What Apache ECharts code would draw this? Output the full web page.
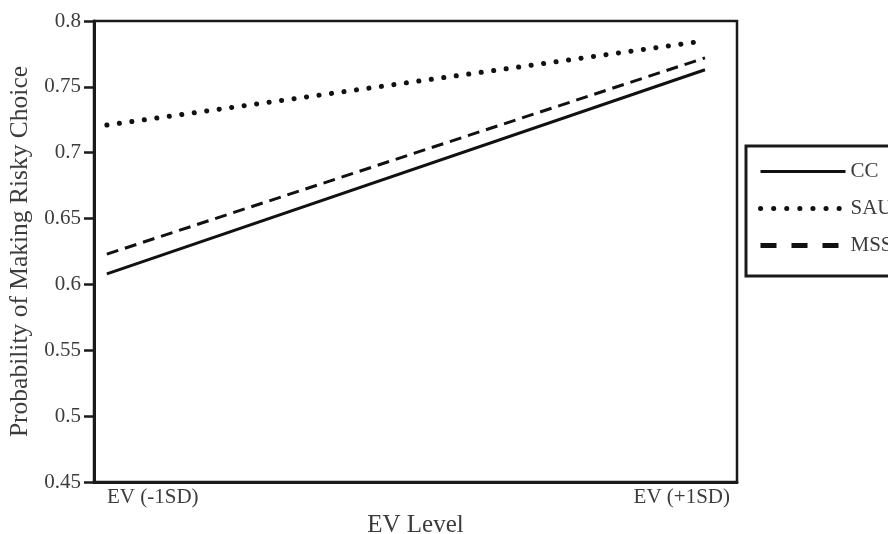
<!DOCTYPE html>
<html>
<head>
<meta charset="utf-8">
<script src="https://cdn.jsdelivr.net/npm/echarts@6/dist/echarts.min.js"></script>
<style>html,body{margin:0;padding:0;background:#fff}#c{width:888px;height:534px}</style>
</head>
<body>
<div id="c"></div>
<script>
var evLevels = [-1, 1];
var evLabels = ['EV (-1SD)', 'EV (+1SD)'];
var seriesNames = ['CC', 'SAU', 'MSS'];
var ccValues = [0.608, 0.763];
var sauValues = [0.721, 0.785];
var mssValues = [0.623, 0.772];
var yTicks = ['0.45', '0.5', '0.55', '0.6', '0.65', '0.7', '0.75', '0.8'];

function pairs(vals) { return evLevels.map(function (x, i) { return [x, vals[i]]; }); }

var FONT = '"Liberation Serif", "DejaVu Serif", serif';
var TXT = '#3c3c3c';
var styles = [
  { color: '#111', width: 3, type: 'solid' },
  { color: '#111', width: 5, type: [0.1, 12.5], cap: 'round' },
  { color: '#111', width: 3, type: [12, 7] }
];
var legendStyles = [
  { color: '#111', width: 3, type: 'solid' },
  { color: '#111', width: 5, type: [0.1, 13], cap: 'round' },
  { color: '#111', width: 5, type: [16, 15] }
];
var chart = echarts.init(document.getElementById('c'), null, { renderer: 'canvas' });
chart.setOption({
  animation: false,
  backgroundColor: '#fff',
  grid: { left: 94, right: 151, top: 21, bottom: 52, show: true, outerBoundsMode: 'none', containLabel: false,
          borderColor: '#1a1a1a', borderWidth: 2.5, backgroundColor: 'transparent' },
  legend: {
    left: 746, top: 146, orient: 'vertical',
    padding: [15, 40, 20, 12],
    itemWidth: 85, itemHeight: 14, itemGap: 16,
    borderColor: '#1a1a1a', borderWidth: 3,
    textStyle: { fontFamily: FONT, fontSize: 21, color: TXT },
    itemStyle: { color: 'transparent', borderWidth: 0, opacity: 0 },
    data: seriesNames.map(function (n, i) {
      return { name: n, lineStyle: legendStyles[i], itemStyle: { color: 'transparent', borderWidth: 0, opacity: 0 } };
    })
  },
  xAxis: [
    { type: 'value', min: -1.043, max: 1.107, show: false },
    {
      type: 'category', boundaryGap: false, data: evLabels, position: 'bottom',
      name: 'EV Level', nameLocation: 'middle', nameGap: 26,
      nameTextStyle: { fontFamily: FONT, fontSize: 25, color: TXT },
      axisLine: { show: true, onZero: false, lineStyle: { color: '#1a1a1a', width: 3 } },
      axisTick: { show: false },
      axisLabel: {
        margin: 5, fontFamily: FONT, fontSize: 21, color: TXT,
        alignMinLabel: 'left', alignMaxLabel: 'right',
        formatter: function (v, i) { return i === 0 ? '{l|' + v + '}' : '{r|' + v + '}'; },
        rich: {
          l: { padding: [0, 0, 0, 13], fontFamily: FONT, fontSize: 21, color: TXT },
          r: { padding: [0, 7, 0, 0], fontFamily: FONT, fontSize: 21, color: TXT }
        }
      },
      splitLine: { show: false }
    }
  ],
  yAxis: {
    type: 'value', min: 0.45, max: 0.8, interval: 0.05,
    name: 'Probability of Making Risky Choice', nameLocation: 'middle', nameGap: 54,
    nameTextStyle: { fontFamily: FONT, fontSize: 25.5, color: TXT },
    axisLine: { show: true, onZero: false, lineStyle: { color: '#1a1a1a', width: 3 } },
    axisTick: { show: true, length: 10, lineStyle: { color: '#1a1a1a', width: 2.5 } },
    axisLabel: {
      margin: 13, fontFamily: FONT, fontSize: 21, color: TXT,
      formatter: function (v) {
        var idx = Math.round((v - 0.45) / 0.05);
        return yTicks[idx] !== undefined ? yTicks[idx] : '';
      }
    },
    splitLine: { show: false }
  },
  series: seriesNames.map(function (n, i) {
    return {
      name: n, type: 'line', xAxisIndex: 0, symbol: 'none',
      data: pairs([ccValues, sauValues, mssValues][i]),
      lineStyle: styles[i], itemStyle: { color: '#111' }
    };
  })
});
</script>
</body>
</html>
